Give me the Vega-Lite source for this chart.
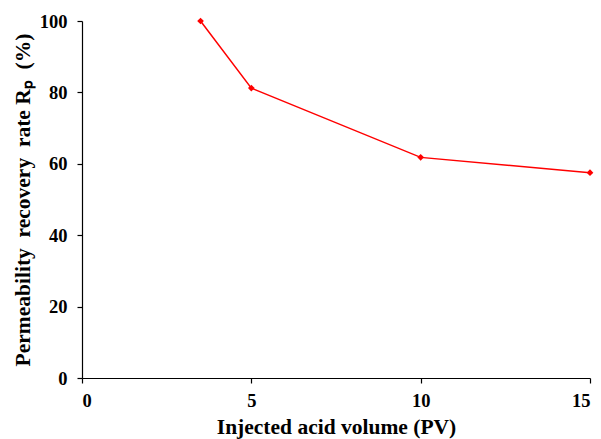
{
  "$schema": "https://vega.github.io/schema/vega-lite/v6.json",
  "autosize": "none",
  "padding": {"left": 82, "top": 21, "right": 11, "bottom": 61},
  "width": 508,
  "height": 357,
  "background": "white",
  "config": {
    "view": {"stroke": null},
    "font": "Liberation Serif",
    "axis": {
      "grid": false,
      "domainColor": "black",
      "tickColor": "black",
      "labelColor": "black",
      "titleColor": "black",
      "labelFont": "Liberation Serif",
      "titleFont": "Liberation Serif",
      "labelFontWeight": "bold",
      "titleFontWeight": "bold",
      "labelFontSize": 18.5,
      "titleFontSize": 21.5,
      "domainWidth": 1.2,
      "tickWidth": 1.2,
      "tickSize": 5
    }
  },
  "data": {
    "values": [
      {"pv": 3.5, "rp": 100},
      {"pv": 5, "rp": 81.2},
      {"pv": 10, "rp": 61.8},
      {"pv": 15, "rp": 57.5}
    ]
  },
  "mark": {"type": "line", "color": "#ff0000", "strokeWidth": 1.5, "point": {"shape": "diamond", "size": 45, "filled": true, "color": "#ff0000"}},
  "encoding": {
    "x": {
      "field": "pv", "type": "quantitative",
      "scale": {"domain": [0, 15], "nice": false},
      "axis": {"values": [0, 5, 10, 15], "title": "Injected acid volume (PV)", "titlePadding": 7, "labelPadding": 8}
    },
    "y": {
      "field": "rp", "type": "quantitative",
      "scale": {"domain": [0, 100], "nice": false},
      "axis": {"values": [0, 20, 40, 60, 80, 100], "title": "Permeability\u00a0 recovery\u00a0 rate Rₚ\u00a0 (%)", "titlePadding": 5, "labelPadding": 10}
    }
  }
}
